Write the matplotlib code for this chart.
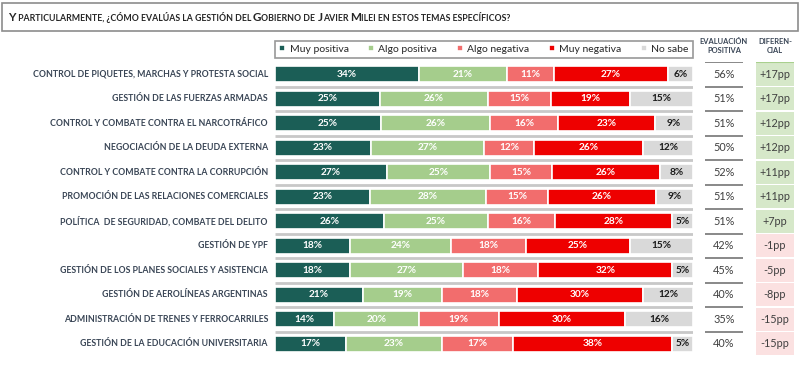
import matplotlib
matplotlib.use("Agg")
import matplotlib.pyplot as plt
from matplotlib.patches import Rectangle
from matplotlib.transforms import blended_transform_factory
import numpy as np

plt.rcParams['font.family'] = ['Lato', 'DejaVu Sans']

temas = [
    "CONTROL DE PIQUETES, MARCHAS Y PROTESTA SOCIAL",
    "GESTIÓN DE LAS FUERZAS ARMADAS",
    "CONTROL Y COMBATE CONTRA EL NARCOTRÁFICO",
    "NEGOCIACIÓN DE LA DEUDA EXTERNA",
    "CONTROL Y COMBATE CONTRA LA CORRUPCIÓN",
    "PROMOCIÓN DE LAS RELACIONES COMERCIALES",
    "POLÍTICA  DE SEGURIDAD, COMBATE DEL DELITO",
    "GESTIÓN DE YPF",
    "GESTIÓN DE LOS PLANES SOCIALES Y ASISTENCIA",
    "GESTIÓN DE AEROLÍNEAS ARGENTINAS",
    "ADMINISTRACIÓN DE TRENES Y FERROCARRILES",
    "GESTIÓN DE LA EDUCACIÓN UNIVERSITARIA",
]
categorias = ["Muy positiva", "Algo positiva", "Algo negativa", "Muy negativa", "No sabe"]
muy_positiva = [34, 25, 25, 23, 27, 23, 26, 18, 18, 21, 14, 17]
algo_positiva = [21, 26, 26, 27, 25, 28, 25, 24, 27, 19, 20, 23]
algo_negativa = [11, 15, 16, 12, 15, 15, 16, 18, 18, 18, 19, 17]
muy_negativa = [27, 19, 23, 26, 26, 26, 28, 25, 32, 30, 30, 38]
no_sabe = [6, 15, 9, 12, 8, 9, 5, 15, 5, 12, 16, 5]
eval_positiva = [56, 51, 51, 50, 52, 51, 51, 42, 45, 40, 35, 40]
diferencial = [17, 17, 12, 12, 11, 11, 7, -1, -5, -8, -15, -15]

colores = ["#1b5e56", "#a5cd8c", "#f26d6d", "#ee0000", "#d9d9d9"]
txt_col = ["white", "white", "white", "white", "#1a1a1a"]
dark = "#3a4656"

W, H = 800, 367
fig = plt.figure(figsize=(W / 100, H / 100), dpi=100)


def rect(x0, y0, x1, y1):
    # pixel box (top-left origin) -> figure fraction
    return [x0 / W, 1 - y1 / H, (x1 - x0) / W, (y1 - y0) / H]


# title box
fig.patches.append(Rectangle((2 / W, 1 - 31 / H), 796 / W, 28 / H, transform=fig.transFigure,
                             fill=False, edgecolor="#8c8c8c", lw=1.2))

# small caps title
titulo = [("Y", True), (" PARTICULARMENTE, ¿CÓMO EVALÚAS LA GESTIÓN DEL ", False),
          ("G", True), ("OBIERNO DE ", False), ("J", True), ("AVIER ", False),
          ("M", True), ("ILEI EN ESTOS TEMAS ESPECÍFICOS?", False)]
renderer = fig.canvas.get_renderer()
xpos = 8
for s, big in titulo:
    t = fig.text(xpos / W, 1 - 21 / H, s, fontsize=8.4 if big else 6.3, color="#262626",
                 ha="left", va="baseline", fontweight="bold")
    xpos += t.get_window_extent(renderer).width

n = len(temas)
y = np.arange(n)
datos = np.array([muy_positiva, algo_positiva, algo_negativa, muy_negativa, no_sabe], dtype=float)
totales = datos.sum(axis=0)
anchos = datos / totales * 100

ax = fig.add_axes(rect(275, 62, 693, 356))
left = np.zeros(n)
handles = []
for k in range(5):
    b = ax.barh(y, anchos[k], left=left, height=0.64, color=colores[k],
                edgecolor="white", lw=1.2, label=categorias[k])
    handles.append(b)
    for i in range(n):
        ax.text(left[i] + anchos[k][i] / 2, y[i], f"{int(datos[k][i])}%", ha="center", va="center",
                color=txt_col[k], fontsize=7.3, fontweight="bold")
    left += anchos[k]
ax.hlines(y[:-1] + 0.5, 0, 100, color="#c8c8c8", lw=2)
ax.set_xlim(0, 100)
ax.set_ylim(n - 0.5, -0.5)
ax.axis("off")

tr = blended_transform_factory(fig.transFigure, ax.transData)
for i in range(n):
    fig.text(268 / W, y[i], temas[i], transform=tr,
             ha="right", va="center", fontsize=6.3, fontweight="bold", color=dark)

# legend box
leg = fig.legend(handles=handles, loc="lower left", ncol=5, mode="expand",
                 bbox_to_anchor=rect(275, 36, 693, 58), bbox_transform=fig.transFigure,
                 fontsize=7.5, frameon=True, fancybox=False, edgecolor="#7f7f7f",
                 handlelength=0.6, handleheight=0.6, handletextpad=0.4, borderpad=0.4,
                 borderaxespad=0)
leg.get_frame().set_linewidth(1.2)
for t in leg.get_texts():
    t.set_color("#262626")

# evaluacion positiva column
ax2 = fig.add_axes(rect(705, 62, 743, 356), sharey=ax)
ax2.set_xlim(0, 1)
ax2.hlines(y - 0.5, 0, 1, color="#7f7f7f", lw=1.3)
for i in range(n):
    ax2.text(0.5, y[i], f"{eval_positiva[i]}%", ha="center", va="center", fontsize=7.8, color="#404040")
ax2.axis("off")
fig.text(724 / W, 1 - 46 / H, "EVALUACIÓN\nPOSITIVA", ha="center", va="center", fontsize=5.4,
         color=dark, fontweight="bold", linespacing=1.3)

# diferencial column
ax3 = fig.add_axes(rect(756, 62, 794, 356), sharey=ax)
cel_col = ["#d6e8c9" if d > 0 else "#fbe1e1" for d in diferencial]
ax3.barh(y, [1] * n, height=0.92, color=cel_col)
ax3.hlines(-0.5, 0, 1, color="#a9d08e", lw=1.5)
for i in range(n):
    ax3.text(0.5, y[i], f"{diferencial[i]:+d}pp", ha="center", va="center", fontsize=7.8, color="#404040")
ax3.set_xlim(0, 1)
ax3.axis("off")
fig.text(775 / W, 1 - 46 / H, "DIFEREN-\nCIAL", ha="center", va="center", fontsize=5.4,
         color=dark, fontweight="bold", linespacing=1.3)

fig.savefig("out.png", dpi=100)
